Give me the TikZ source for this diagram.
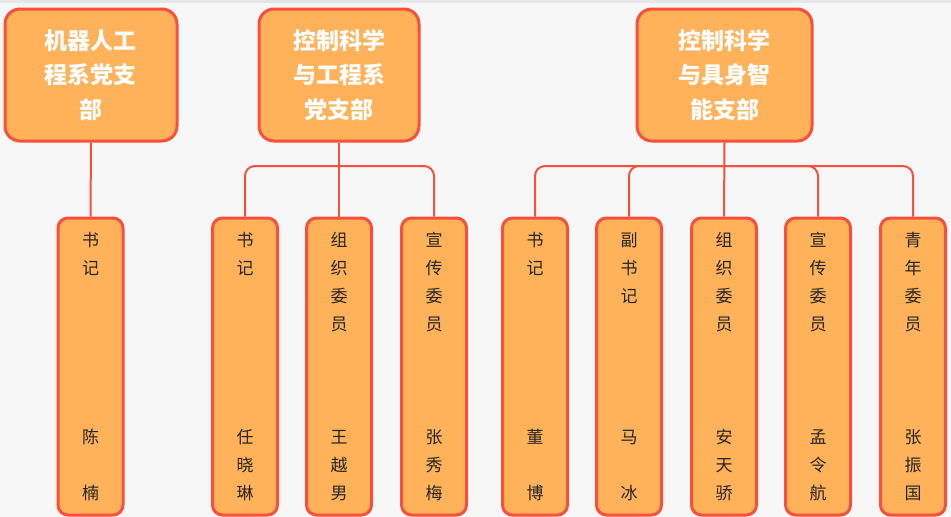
\documentclass[tikz,border=0pt]{standalone}
\usepackage{fontspec}
\setmainfont{Noto Sans CJK SC}
\newfontfamily\cjk{Noto Sans CJK SC}
\usetikzlibrary{positioning}
\definecolor{boxfill}{RGB}{255,178,90}
\definecolor{boxline}{RGB}{248,80,60}
\definecolor{bgcol}{RGB}{247,247,247}
\definecolor{barcol}{RGB}{230,230,230}
\tikzset{
  branch/.style={draw=boxline, line width=3pt, fill=boxfill, rounded corners=15pt,
    minimum height=132pt, inner sep=0pt, align=center, text=white,
    font=\cjk\bfseries\fontsize{23}{34.5}\selectfont},
  member/.style={draw=boxline, line width=3pt, fill=boxfill, rounded corners=10pt,
    minimum width=65pt, minimum height=297pt, inner sep=0pt, align=center,
    text=black!85, font=\cjk\fontsize{17}{28.1}\selectfont},
  link/.style={draw=boxline, line width=2pt, rounded corners=10pt}
}
\begin{document}
\begin{tikzpicture}[x=1pt, y=-1pt]
  \useasboundingbox (0,0) rectangle (951,517);
  \fill[bgcol] (0,0) rectangle (951,517);
  \fill[barcol] (0,0) rectangle (951,3);
  % branches
  \node[branch, minimum width=172pt] (robot) at (91,75) {机器人工\\程系党支\\部};
  \node[branch, minimum width=160pt] (ctrl) at (339,75) {控制科学\\与工程系\\党支部};
  \node[branch, minimum width=175pt] (embodied) at (724.5,75) {控制科学\\与具身智\\能支部};
  % members
  \node[member] (robotsec) at (90.5,366.5) {书\\记\\~\\~\\~\\~\\~\\陈\\~\\楠};
  \node[member] (ctrlsec) at (245,366.5) {书\\记\\~\\~\\~\\~\\~\\任\\晓\\琳};
  \node[member] (ctrlorg) at (339,366.5) {组\\织\\委\\员\\~\\~\\~\\王\\越\\男};
  \node[member] (ctrlpub) at (434,366.5) {宣\\传\\委\\员\\~\\~\\~\\张\\秀\\梅};
  \node[member] (embsec) at (535,366.5) {书\\记\\~\\~\\~\\~\\~\\董\\~\\博};
  \node[member] (embvice) at (629,366.5) {副\\书\\记\\~\\~\\~\\~\\马\\~\\冰};
  \node[member] (emborg) at (724,366.5) {组\\织\\委\\员\\~\\~\\~\\安\\天\\骄};
  \node[member] (embpub) at (818,366.5) {宣\\传\\委\\员\\~\\~\\~\\孟\\令\\航};
  \node[member] (embyouth) at (913,366.5) {青\\年\\委\\员\\~\\~\\~\\张\\振\\国};
  % links
  \coordinate (ctrlbar) at (339,166);
  \coordinate (embbar) at (724.5,166);
  \draw[link] (robot.south) -- (robotsec.north);
  \draw[link] (ctrl.south) -- (ctrlorg.north);
  \draw[link] (ctrlbar) -| (ctrlsec.north);
  \draw[link] (ctrlbar) -| (ctrlpub.north);
  \draw[link] (embodied.south) -- (emborg.north);
  \foreach \m in {embsec, embvice, embpub, embyouth}
    \draw[link] (embbar) -| (\m.north);
\end{tikzpicture}
\end{document}
